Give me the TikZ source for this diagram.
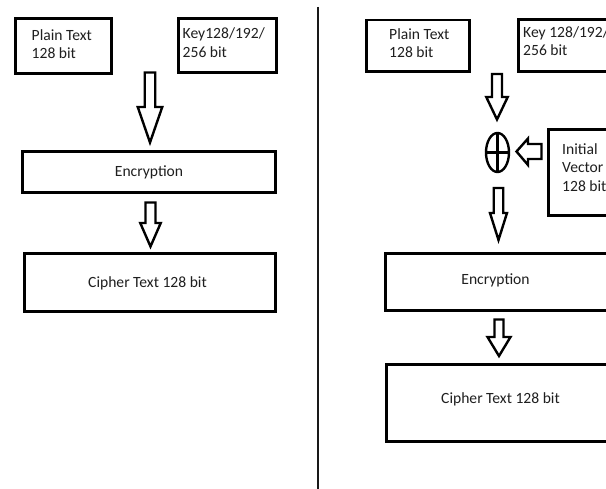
\documentclass[tikz,border=0pt]{standalone}
\usepackage{fontspec}
\setmainfont{Carlito}
\usetikzlibrary{fit,shapes.geometric}
\tikzset{
  box/.style={draw=black, line width=2.6pt, inner sep=0pt, rectangle},
  blk/.style={draw=black, line width=2.4pt, fill=white, line join=miter, miter limit=20},
  txt/.style={inner sep=0pt, align=left, text=black!88, font=\fontsize{15.6}{18.5}\selectfont},
  ctxt/.style={inner sep=0pt, text=black!88, font=\fontsize{15.6}{18.5}\selectfont},
}
% cx, top, head base, tip, shaft width, head width
\newcommand\blockdown[6]{%
  \draw[blk] ({#1-#5/2},#2) -- ({#1-#5/2},#3) -- ({#1-#6/2},#3) -- (#1,#4) --
    ({#1+#6/2},#3) -- ({#1+#5/2},#3) -- ({#1+#5/2},#2) -- cycle;}
\begin{document}
\begin{tikzpicture}[x=1pt,y=-1pt]
\useasboundingbox (0,0) rectangle (606,489);
\clip (0,0) rectangle (606,489);
\fill[white] (0,0) rectangle (606,489);

% divider
\coordinate (divtop) at (318,7);
\coordinate (divbot) at (318,492);
\draw[line width=2.4pt, black!90] (divtop) -- (divbot);

% ---------- left panel ----------
\node[box, fit={(15.5,18.5)(111.5,73.5)}] (lpt) {};
\node[txt, anchor=north west] (lptt) at (31.5,29) {Plain Text\\128 bit};
\node[box, fit={(178.5,18.5)(276.5,72.5)}] (lkey) {};
\node[txt, anchor=north west] (lkeyt) at (182.5,27.5) {Key128/192/\\256 bit};
\node[box, fit={(22.5,151.5)(275.5,192.5)}] (lenc) {};
\node[ctxt, anchor=base] (lenct) at (149,177) {Encryption};
\node[box, fit={(24.5,253.5)(275.5,311.5)}] (lcip) {};
\node[ctxt, anchor=base] (lcipt) at (147.5,288) {Cipher Text 128 bit};

\blockdown{150}{72.5}{107}{142.5}{10.5}{24.5}
\blockdown{150.5}{202.5}{223}{246.5}{10}{20.5}

% ---------- right panel ----------
\node[box, fit={(366.5,20)(469.5,71.5)}] (rpt) {};
\node[txt, anchor=north west] (rptt) at (389,28) {Plain Text\\128 bit};
\node[box, fit={(518.5,19.5)(630,71.5)}] (rkey) {};
\node[txt, anchor=north west] (rkeyt) at (523,26) {Key 128/192/\\256 bit};
\node[box, fit={(548.5,129.5)(630,215.5)}] (riv) {};
\node[txt, anchor=north west] (rivt) at (562,143) {Initial\\Vector\\128 bit};
\node[box, fit={(385.5,253.5)(630,310.5)}] (renc) {};
\node[ctxt, anchor=base] (renct) at (495.5,285) {Encryption};
\node[box, fit={(386.5,364.5)(630,441.5)}] (rcip) {};
\node[ctxt, anchor=base] (rcipt) at (500.5,404) {Cipher Text 128 bit};

% XOR
\node[draw=black, line width=2.4pt, ellipse, minimum width=23pt, minimum height=39pt, inner sep=0pt] (xor) at (497.5,152.5) {};
\draw[line width=2.4pt] (xor.north) -- (xor.south);
\draw[line width=2.4pt] (xor.west) -- (xor.east);

\blockdown{497}{74}{97}{119.5}{10}{21.5}
\blockdown{498.5}{188}{213}{240}{9.5}{17}
\blockdown{499}{319.5}{337}{356}{9}{23}

% left-pointing arrow from IV to XOR
\draw[blk] (541.5,144) -- (528,144) -- (528,138.5) -- (516.5,151.5) -- (528,165) -- (528,159) -- (541.5,159) -- cycle;
\end{tikzpicture}
\end{document}
